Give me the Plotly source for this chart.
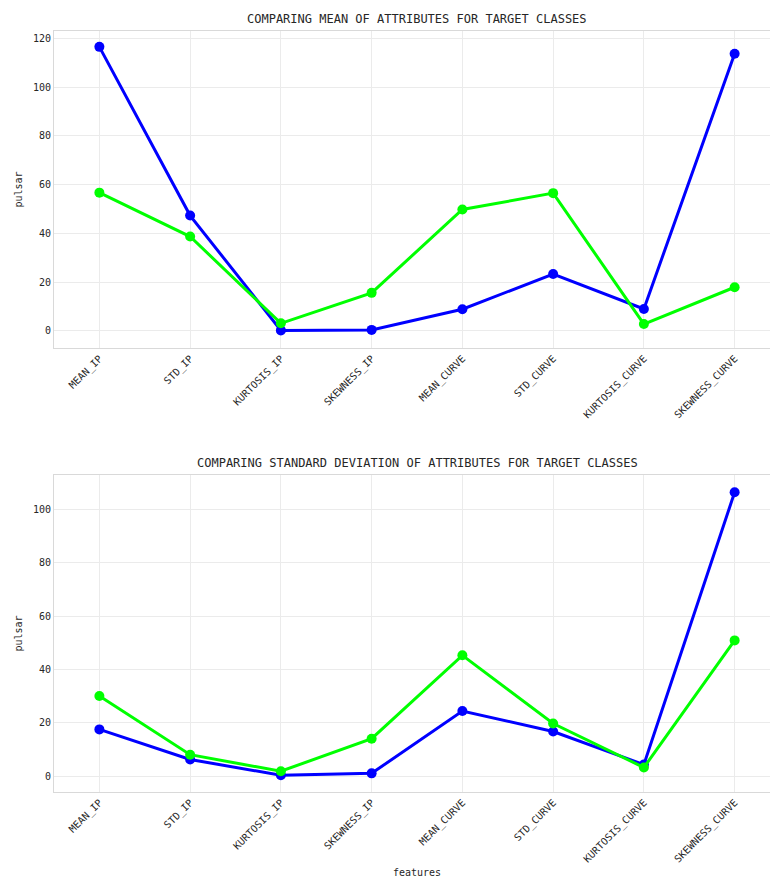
import plotly.graph_objects as go
from plotly.subplots import make_subplots

features = ["MEAN_IP", "STD_IP", "KURTOSIS_IP", "SKEWNESS_IP",
            "MEAN_CURVE", "STD_CURVE", "KURTOSIS_CURVE", "SKEWNESS_CURVE"]

mean_pulsar = [116.5, 47.3, 0.2, 0.4, 8.9, 23.3, 9.0, 113.7]
mean_nonpulsar = [56.7, 38.7, 3.1, 15.6, 49.8, 56.5, 2.8, 17.9]
std_pulsar = [17.5, 6.2, 0.3, 1.0, 24.4, 16.7, 4.3, 106.5]
std_nonpulsar = [30.0, 8.0, 1.8, 14.0, 45.3, 19.7, 3.2, 50.9]

fig = make_subplots(rows=2, cols=1, vertical_spacing=0.17,
                    subplot_titles=("COMPARING MEAN OF ATTRIBUTES FOR TARGET CLASSES",
                                    "COMPARING STANDARD DEVIATION OF ATTRIBUTES FOR TARGET CLASSES"))

for row, blue, green in [(1, mean_pulsar, mean_nonpulsar), (2, std_pulsar, std_nonpulsar)]:
    fig.add_trace(go.Scatter(x=features, y=blue, mode="lines+markers",
                             line=dict(color="#0000ff", width=3), marker=dict(size=10)),
                  row=row, col=1)
    fig.add_trace(go.Scatter(x=features, y=green, mode="lines+markers",
                             line=dict(color="#00ff00", width=3), marker=dict(size=10)),
                  row=row, col=1)

axis_style = dict(showgrid=True, gridcolor="#ebebeb", showline=True, linecolor="#d9d9d9",
                  mirror=True, zeroline=False, automargin=False,
                  tickfont=dict(size=10, color="#262626"))
fig.update_xaxes(range=[-0.5, 7.5], tickangle=-45, **axis_style)
fig.update_yaxes(title_text="pulsar", title_font=dict(size=10), title_standoff=8, **axis_style)
fig.update_yaxes(range=[-7, 123], dtick=20, row=1, col=1)
fig.update_yaxes(range=[-6, 113], dtick=20, row=2, col=1)
fig.update_xaxes(title_text="features", title_font=dict(size=10), title_standoff=4, row=2, col=1)

fig.update_layout(
    width=778, height=879,
    font=dict(family="DejaVu Sans Mono", color="#262626"),
    plot_bgcolor="white", paper_bgcolor="white",
    showlegend=False,
    margin=dict(l=46, r=6, t=23, b=95),
)
fig.layout.yaxis.domain = [0.5835, 1]
fig.layout.yaxis2.domain = [0, 0.4166]
for ann in fig.layout.annotations:
    ann.font = dict(size=12, color="#262626", family="DejaVu Sans Mono")
    ann.yshift = 3
fig.layout.annotations[0].y = 1
fig.layout.annotations[1].y = 0.4166

fig.write_html("out.html")
